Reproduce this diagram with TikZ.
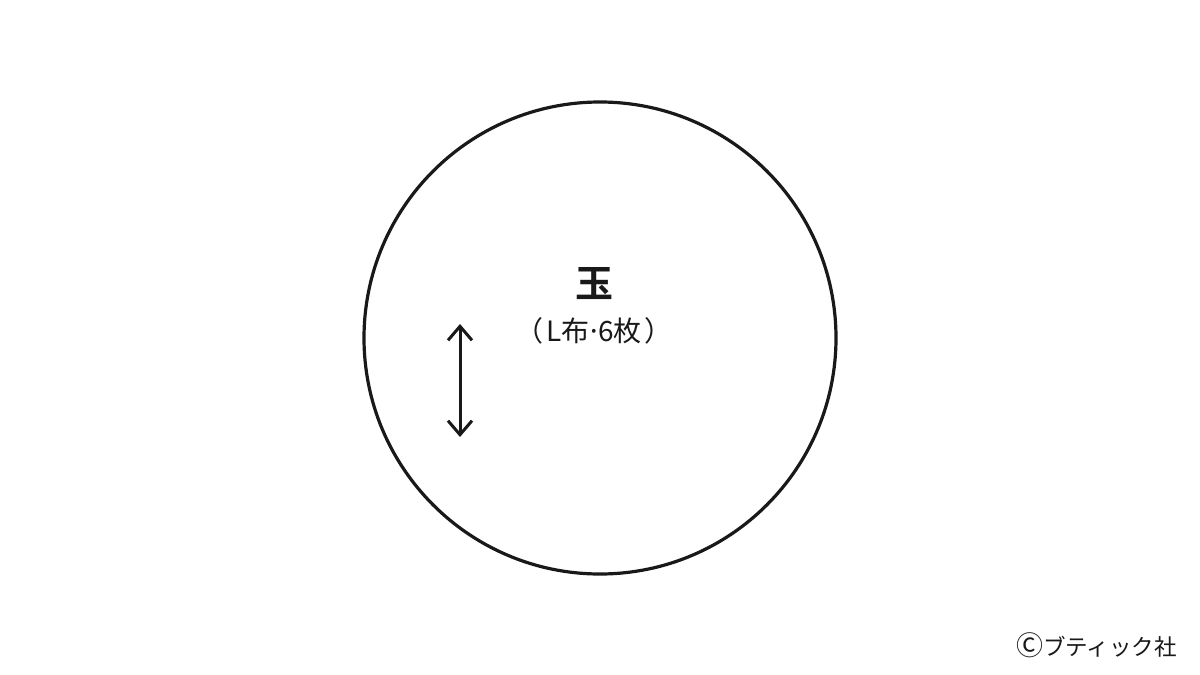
\documentclass[tikz,border=0pt]{standalone}
\usepackage{fontspec}
\newfontfamily\cjk{Noto Sans CJK JP}
\newfontfamily\cjkb{Noto Sans CJK JP Bold}
\usetikzlibrary{arrows.meta}
\begin{document}
\begin{tikzpicture}[x=1pt,y=-1pt,
  outline/.style={draw=black!90, line width=3.2pt},
  grain/.style={draw=black!90, line width=3pt, {Straight Barb[length=14pt,width=24pt]}-{Straight Barb[length=14pt,width=24pt]}},
  lbl/.style={inner sep=0pt, text=black!90}]
\useasboundingbox (0,0) rectangle (1200,675);
\fill[white] (0,0) rectangle (1200,675);
\node[outline, circle, minimum size=472pt, inner sep=0pt] (disc) at (600,338) {};
\node[lbl, font=\cjkb\fontsize{38}{40}\selectfont] (title) at (594,284) {玉};
\node[lbl, font=\cjk\fontsize{28}{30}\selectfont] (sub) at (594,331) {（\kern0.1emL布\kern-0.12em·\kern-0.12em6枚\kern0.1em）};
\coordinate (gtop) at (460,324);
\coordinate (gbot) at (460,437);
\draw[grain] (gtop) -- (gbot);
\node[lbl, font=\cjk\fontsize{22.5}{24}\selectfont, anchor=east] (copy) at (1177,645) {{\fontsize{27}{28}\selectfont Ⓒ}ブティック社};
\end{tikzpicture}
\end{document}
